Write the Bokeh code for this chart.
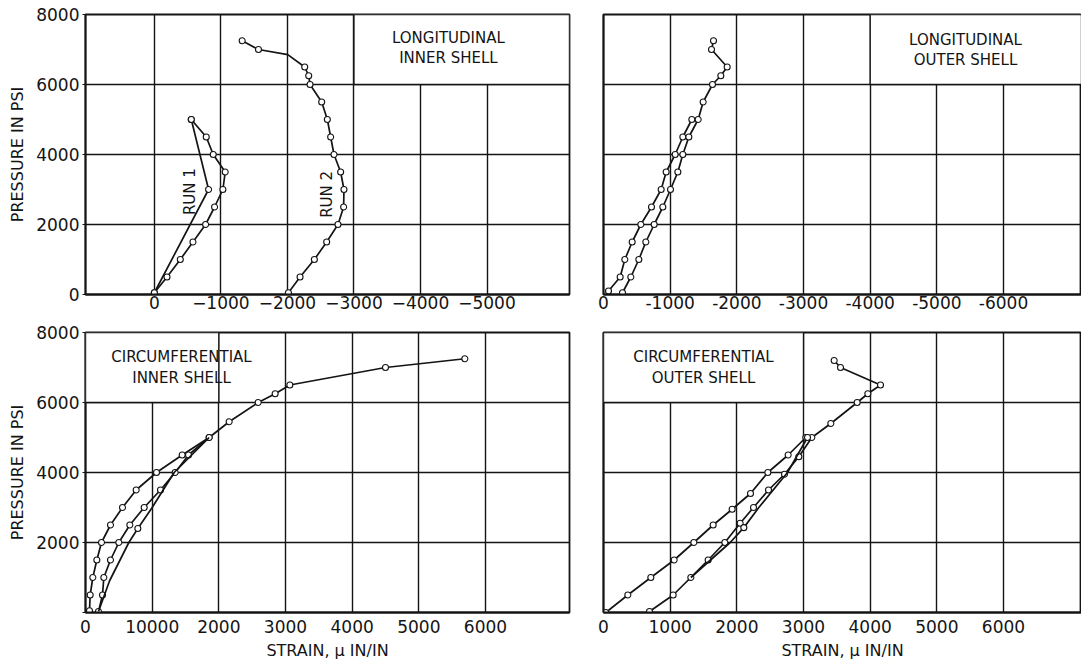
import math
from bokeh.plotting import figure
from bokeh.layouts import gridplot
from bokeh.models import Range1d, FixedTicker, BoxAnnotation, Label
from bokeh.embed import file_html
from bokeh.resources import INLINE

# ---------------- data ----------------
pressure_ticks = [0, 2000, 4000, 6000, 8000]

# Longitudinal, inner shell (strain negative)
li_ticks = [0, -1000, -2000, -3000, -4000, -5000]
li_tick_labels = ["0", "\u22121000", "\u22122000", "\u22123000", "\u22124000", "\u22125000"]
li_run1_load_strain = [0, -190, -390, -580, -770, -905, -1030, -1065, -885, -780, -555]
li_run1_load_psi = [50, 500, 1000, 1500, 2000, 2500, 3000, 3500, 4000, 4500, 5000]
li_run1_unload_strain = [-555, -815, 0]
li_run1_unload_psi = [5000, 3000, 50]
li_run2_strain = [-2015, -2190, -2405, -2590, -2760, -2845, -2850, -2800, -2700, -2650,
                  -2600, -2515, -2340, -2320, -2260, -1565, -1320]
li_run2_psi = [50, 500, 1000, 1500, 2000, 2500, 3000, 3500, 4000, 4500,
               5000, 5500, 6000, 6250, 6500, 7000, 7250]
# course of the drawn curve through the run-2 points (one extra bend)
li_run2_path_strain = [-2015, -2190, -2405, -2590, -2760, -2845, -2850, -2800, -2700, -2650,
                       -2600, -2515, -2340, -2320, -2260, -2005, -1565, -1320]
li_run2_path_psi = [50, 500, 1000, 1500, 2000, 2500, 3000, 3500, 4000, 4500,
                    5000, 5500, 6000, 6250, 6500, 6855, 7000, 7250]

# Longitudinal, outer shell
lo_ticks = [0, -1000, -2000, -3000, -4000, -5000, -6000]
lo_tick_labels = ["0", "-1000", "-2000", "-3000", "-4000", "-5000", "-6000"]
lo_a_strain = [-75, -250, -320, -430, -560, -720, -865, -940, -1075, -1190, -1325]
lo_a_psi = [100, 500, 1000, 1500, 2000, 2500, 3000, 3500, 4000, 4500, 5000]
lo_b_strain = [-285, -410, -530, -635, -760, -890, -1005, -1115, -1190, -1280, -1420,
               -1495, -1635, -1760, -1855, -1620, -1650]
lo_b_psi = [50, 500, 1000, 1500, 2000, 2500, 3000, 3500, 4000, 4500, 5000,
            5500, 6000, 6250, 6500, 7000, 7250]

# Circumferential, inner shell
ci_ticks = [0, 1000, 2000, 3000, 4000, 5000, 6000]
ci_tick_labels = ["0", "10000", "2000", "3000", "4000", "5000", "6000"]
ci_1_strain = [60, 70, 110, 170, 240, 375, 555, 760, 1065, 1450, 1855]
ci_1_psi = [50, 500, 1000, 1500, 2000, 2500, 3000, 3500, 4000, 4500, 5000]
ci_2_strain = [195, 255, 275, 375, 500, 665, 880, 1125, 1345, 1545, 1855,
               2155, 2590, 2845, 3065, 4500, 5690]
ci_2_psi = [30, 500, 1000, 1500, 2000, 2500, 3000, 3500, 4000, 4500, 5000,
            5450, 6000, 6250, 6500, 7000, 7250]
ci_3_strain = [195, 360, 650, 785, 1000, 1330, 1855]
ci_3_psi = [30, 900, 2000, 2400, 3000, 4000, 5000]
ci_3_mark_strain = [785]
ci_3_mark_psi = [2400]

# Circumferential, outer shell
co_ticks = [0, 1000, 2000, 3000, 4000, 5000, 6000]
co_tick_labels = ["0", "1000", "2000", "3000", "4000", "5000", "6000"]
co_1_strain = [35, 365, 710, 1060, 1355, 1645, 1930, 2205, 2465, 2770, 3035]
co_1_psi = [0, 500, 1000, 1500, 2000, 2500, 2950, 3400, 4000, 4500, 5000]
co_2_strain = [690, 1045, 1310, 1570, 1820, 2050, 2250, 2475, 2715, 2930, 3125,
               3410, 3805, 3965, 4155, 3555, 3460]
co_2_psi = [30, 500, 1000, 1500, 2000, 2550, 3000, 3500, 3950, 4450, 5000,
            5400, 6000, 6250, 6500, 7000, 7200]
co_3_strain = [1310, 1900, 2105, 2330, 2760, 3060]
co_3_psi = [1000, 2000, 2425, 3000, 4000, 5000]
co_3_mark_strain = [2105, 3060]
co_3_mark_psi = [2425, 5000]

# ---------------- styling ----------------
FONT = "DejaVu Sans"
INK = "#141414"
TICK_FS = "17px"


def make_panel(width, height, xr, borders, xticks, xlabels, show_y_labels,
               y_title=None, x_title=None, hide_y_zero=False,
               x_standoff=1, x_title_standoff=3):
    bl, br, bt, bb = borders
    p = figure(width=width, height=height, x_range=Range1d(*xr), y_range=Range1d(0, 8000),
               output_backend="svg", toolbar_location=None, tools="",
               min_border_left=bl, min_border_right=br, min_border_top=bt,
               min_border_bottom=bb)
    p.background_fill_color = "white"
    p.border_fill_color = "white"
    p.outline_line_color = INK
    p.outline_line_width = 1.8

    p.xaxis.ticker = FixedTicker(ticks=xticks)
    p.xgrid.ticker = FixedTicker(ticks=xticks)
    p.yaxis.ticker = FixedTicker(ticks=pressure_ticks)
    p.ygrid.ticker = FixedTicker(ticks=pressure_ticks)
    for g in (p.xgrid, p.ygrid):
        g.grid_line_color = INK
        g.grid_line_width = 1.4
        g.grid_line_alpha = 1.0

    p.xaxis.major_label_overrides = {t: lab for t, lab in zip(xticks, xlabels)}
    for ax in (p.xaxis, p.yaxis):
        ax.axis_line_color = INK
        ax.axis_line_width = 1.8
        ax.minor_tick_line_color = None
        ax.major_label_text_font = FONT
        ax.major_label_text_font_size = TICK_FS
        ax.major_label_text_color = INK
        ax.axis_label_text_font = FONT
        ax.axis_label_text_font_size = "16px"
        ax.axis_label_text_font_style = "normal"
        ax.axis_label_text_color = INK
    p.xaxis.major_tick_line_color = None
    p.xaxis.major_tick_out = 0
    p.xaxis.major_tick_in = 0
    p.xaxis.major_label_standoff = x_standoff

    p.yaxis.major_tick_line_color = INK
    p.yaxis.major_tick_out = 3
    p.yaxis.major_tick_in = 0
    p.yaxis.major_label_standoff = 3
    if show_y_labels:
        ov = {t: str(t) for t in pressure_ticks}
        if hide_y_zero:
            ov[0] = ""
        p.yaxis.major_label_overrides = ov
    else:
        p.yaxis.major_label_overrides = {t: "" for t in pressure_ticks}
        p.yaxis.major_tick_out = 0
        p.yaxis.major_label_standoff = 0
    if y_title:
        p.yaxis.axis_label = y_title
        p.yaxis.axis_label_standoff = 6
    if x_title:
        p.xaxis.axis_label = x_title
        p.xaxis.axis_label_standoff = x_title_standoff
    return p


def add_line(p, xs, ys):
    p.line(xs, ys, line_color=INK, line_width=1.7)


def add_marks(p, xs, ys):
    p.scatter(xs, ys, marker="circle", size=6, fill_color="white",
              line_color=INK, line_width=1.1)


def add_curve(p, xs, ys):
    add_line(p, xs, ys)
    add_marks(p, xs, ys)


def add_box(p, text, x, y, **edges):
    box = BoxAnnotation(fill_color="white", fill_alpha=1.0, line_color=INK,
                        line_alpha=1.0, line_width=1.4, **edges)
    p.add_layout(box)
    p.add_layout(Label(x=x, y=y, text=text, text_align="center", text_baseline="middle",
                       text_font=FONT, text_font_size="15px", text_color=INK,
                       text_line_height=1.15))


# Top-left: longitudinal inner shell
tl = make_panel(586, 316, (1035, -6240), (83, 17, 14, 22), li_ticks, li_tick_labels,
                True, y_title="PRESSURE IN PSI")
add_box(tl, "LONGITUDINAL\nINNER SHELL", -4420, 7040, left=-3000, bottom=6000)
add_curve(tl, li_run1_load_strain, li_run1_load_psi)
add_curve(tl, li_run1_unload_strain, li_run1_unload_psi)
add_line(tl, li_run2_path_strain, li_run2_path_psi)
add_marks(tl, li_run2_strain, li_run2_psi)
for txt, x, y in (("RUN 1", -540, 2940), ("RUN 2", -2594, 2860)):
    tl.add_layout(Label(x=x, y=y, text=txt, angle=math.pi / 2, text_align="center",
                        text_baseline="middle", text_font=FONT, text_font_size="15px",
                        text_color=INK))

# Top-right: longitudinal outer shell
tr = make_panel(495, 316, (0, -7170), (17, 0, 14, 22), lo_ticks, lo_tick_labels, False)
add_box(tr, "LONGITUDINAL\nOUTER SHELL", -5430, 6990, left=-4000, bottom=6000)
add_curve(tr, lo_a_strain, lo_a_psi)
add_curve(tr, lo_b_strain, lo_b_psi)

# Bottom-left: circumferential inner shell
bl = make_panel(586, 348, (0, 7260), (85, 17, 16, 52), ci_ticks, ci_tick_labels,
                True, y_title="PRESSURE IN PSI", x_title="STRAIN, \u03bc IN/IN",
                hide_y_zero=True, x_standoff=7, x_title_standoff=5)
add_box(bl, "CIRCUMFERENTIAL\nINNER SHELL", 1440, 7000, right=2000, bottom=6000)
add_curve(bl, ci_1_strain, ci_1_psi)
add_curve(bl, ci_2_strain, ci_2_psi)
add_line(bl, ci_3_strain, ci_3_psi)
add_marks(bl, ci_3_mark_strain, ci_3_mark_psi)

# Bottom-right: circumferential outer shell
br = make_panel(495, 348, (0, 7170), (17, 0, 16, 52), co_ticks, co_tick_labels,
                False, x_title="STRAIN, \u03bc IN/IN", x_standoff=7, x_title_standoff=5)
add_box(br, "CIRCUMFERENTIAL\nOUTER SHELL", 1500, 7000, right=3000, bottom=6000)
add_curve(br, co_1_strain, co_1_psi)
add_curve(br, co_2_strain, co_2_psi)
add_line(br, co_3_strain, co_3_psi)
add_marks(br, co_3_mark_strain, co_3_mark_psi)

grid = gridplot([[tl, tr], [bl, br]], toolbar_location=None)

open("out.html", "w").write(file_html(grid, INLINE))
